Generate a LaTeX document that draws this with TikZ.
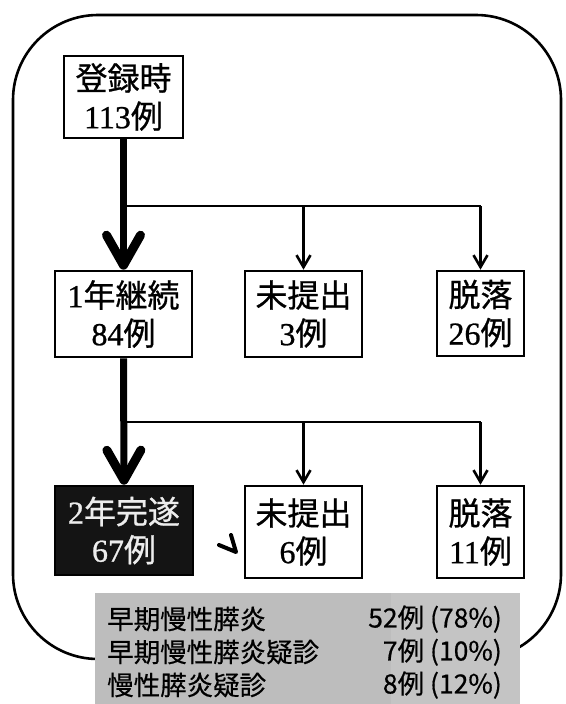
\documentclass[tikz,border=0pt]{standalone}
\usepackage{fontspec}
\setmainfont{Liberation Serif}
\newfontfamily\serifb[FakeBold=0.8]{Liberation Serif}
\newfontfamily\cjk{Noto Sans CJK JP}
\newfontfamily\cjkb[FakeBold=0.8]{Noto Sans CJK JP}
\newfontfamily\cjkl[FakeBold=0.5]{Noto Sans CJK JP}
\usetikzlibrary{arrows.meta}
\newcommand\jpn[1]{{\cjkb #1}}
\begin{document}
\begin{tikzpicture}[x=1pt,y=-1pt,
  box/.style={draw, line width=2.6pt, align=center, inner sep=0pt,
    font=\serifb\fontsize{32}{38}\selectfont},
  thickarrow/.style={line width=7pt,
    -{Straight Barb[length=30pt,width=34pt,line width=9pt,round]}},
  thinline/.style={line width=2.6pt},
  thinarrow/.style={line width=2.6pt,
    -{Straight Barb[length=12pt,width=14pt,line width=2.6pt]}},
  listtext/.style={font=\cjkl\fontsize{26.5}{33}\selectfont, inner sep=0pt}
]
\useasboundingbox (0,0) rectangle (565,704);
\fill[white] (0,0) rectangle (565,704);

% outer rounded frame
\draw[line width=2.6pt, rounded corners=85pt] (13,15) rectangle (561,659);

% boxes
\node[box, minimum width=119pt, minimum height=82pt] (reg) at (123.5,97) {\jpn{登録時}\\113\jpn{例}};
\node[box, minimum width=137pt, minimum height=86pt] (y1) at (123.5,314) {1\jpn{年継続}\\84\jpn{例}};
\node[box, minimum width=117pt, minimum height=86pt] (m1) at (303.5,314) {\jpn{未提出}\\3\jpn{例}};
\node[box, minimum width=87pt, minimum height=85pt] (d1) at (480.5,313.5) {\jpn{脱落}\\26\jpn{例}};
\node[box, fill=black!92, text=white!93!black, minimum width=138pt, minimum height=89pt] (y2) at (124,530.5) {2\jpn{年完遂}\\67\jpn{例}};
\node[box, minimum width=117pt, minimum height=92pt] (m2) at (303.5,532) {\jpn{未提出}\\6\jpn{例}};
\node[box, minimum width=87pt, minimum height=92pt] (d2) at (480.5,532) {\jpn{脱落}\\11\jpn{例}};

% connectors
\coordinate (b1) at (123.5,206);
\coordinate (b2) at (123.5,422);
\draw[thickarrow] (reg.south) -- (y1.north);
\draw[thinline] (b1) -- (b1 -| d1.north);
\draw[thinarrow] (b1 -| m1.north) -- (m1.north);
\draw[thinarrow] (b1 -| d1.north) -- (d1.north);
\draw[thickarrow] (y1.south) -- (y2.north);
\draw[thinline] (b2) -- (b2 -| d2.north);
\draw[thinarrow] (b2 -| m2.north) -- (m2.north);
\draw[thinarrow] (b2 -| d2.north) -- (d2.north);

% stray mark
\draw[line width=4pt, line cap=round, line join=round] (231,535) -- (236,552) -- (219,545);

% summary panel
\fill[gray!52] (95,593) rectangle (391,704);
\fill[gray!46] (391,593) rectangle (520,704);
\node[listtext, anchor=west, align=left] (lt) at (107,652) {早期慢性膵炎\\早期慢性膵炎疑診\\慢性膵炎疑診};
\node[listtext, anchor=east, align=right] (rt) at (502,652) {52例 (78\%)\\7例 (10\%)\\8例 (12\%)};
\end{tikzpicture}
\end{document}
